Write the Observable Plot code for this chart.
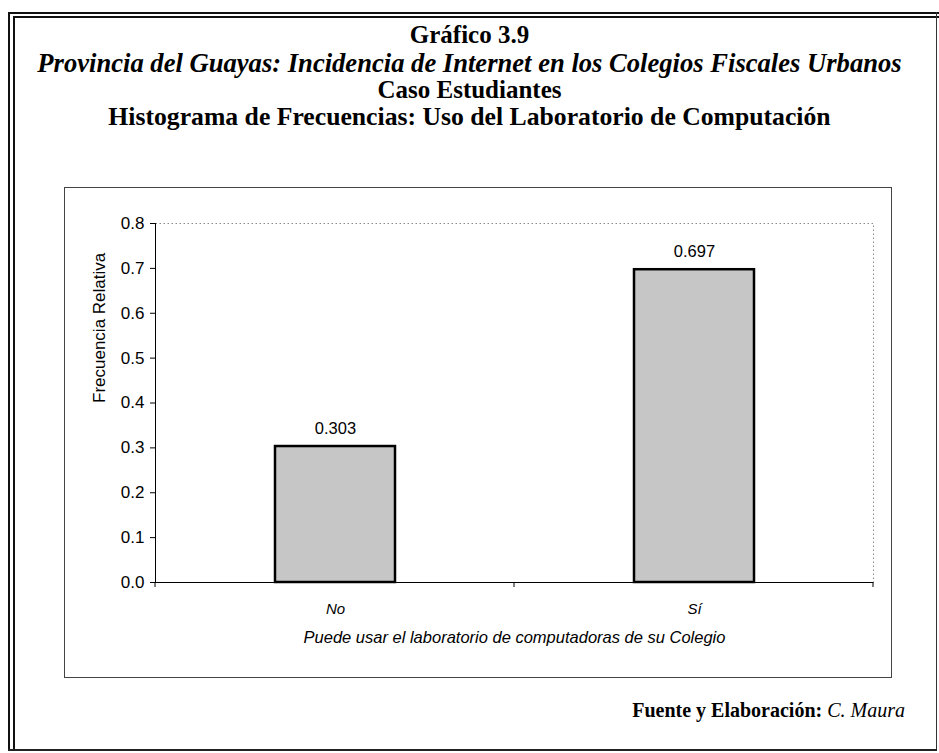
<!DOCTYPE html>
<html>
<head>
<meta charset="utf-8">
<script src="https://cdn.jsdelivr.net/npm/d3@7"></script>
<script src="https://cdn.jsdelivr.net/npm/@observablehq/plot@0.6"></script>
<style>
  html, body { margin: 0; padding: 0; background: #fff; }
  #page { position: relative; width: 939px; height: 753px; overflow: hidden; background: #fff; }
  .frameL1 { position: absolute; left: 8px; top: 12px; width: 2px; height: 738px; background: #111; }
  .frameL2 { position: absolute; left: 13px; top: 16px; width: 2px; height: 734px; background: #111; }
  .frameT1 { position: absolute; left: 8px; top: 12px; width: 931px; height: 2px; background: #111; }
  .frameT2 { position: absolute; left: 13px; top: 16px; width: 926px; height: 2px; background: #111; }
  .frameR { position: absolute; left: 936px; top: 12px; width: 1px; height: 738px; background: #333; }
  .frameB { position: absolute; left: 8px; top: 749px; width: 929px; height: 2px; background: #222; }
  .t { position: absolute; left: 0; width: 939px; text-align: center; font-family: "Liberation Serif", "Times New Roman", serif; color: #000; white-space: nowrap; line-height: 1; font-weight: bold; }
  #chartbox { position: absolute; left: 64px; top: 187px; width: 828px; height: 491px; border: 1px solid #444; box-sizing: border-box; }
  #plot { position: absolute; left: 64px; top: 187px; }
  #fuente { position: absolute; right: 34px; top: 700px; font-family: "Liberation Serif", "Times New Roman", serif; font-size: 20px; white-space: nowrap; line-height: 1; }
</style>
</head>
<body>
<div id="page">
  <div class="frameL1"></div><div class="frameL2"></div>
  <div class="frameT1"></div><div class="frameT2"></div>
  <div class="frameR"></div><div class="frameB"></div>
  <div class="t" id="t1" style="top:22px;font-size:25px;">Gráfico 3.9</div>
  <div class="t" id="t2" style="top:49.5px;font-size:26.6px;font-style:italic;">Provincia del Guayas: Incidencia de Internet en los Colegios Fiscales Urbanos</div>
  <div class="t" id="t3" style="top:77px;font-size:25px;">Caso Estudiantes</div>
  <div class="t" id="t4" style="top:104px;font-size:25.7px;">Histograma de Frecuencias: Uso del Laboratorio de Computación</div>
  <div id="chartbox"></div>
  <div id="plot"></div>
  <div id="fuente"><b>Fuente y Elaboración:</b> <i>C. Maura</i></div>
</div>
<script>
const categories = ["No", "Sí"];
const values = [0.303, 0.697];
const valueLabels = ["0.303", "0.697"];
const yTicks = [0.0, 0.1, 0.2, 0.3, 0.4, 0.5, 0.6, 0.7, 0.8];
const yLabel = "Frecuencia Relativa";
const xLabel = "Puede usar el laboratorio de computadoras de su Colegio";

const data = categories.map((c, i) => ({cat: c, val: values[i], label: valueLabels[i]}));

// Excel-style tick marks at category boundaries
function boundaryTicks(index, scales, values, dimensions) {
  const {width, height, marginLeft, marginRight, marginBottom} = dimensions;
  const n = categories.length;
  const x0 = marginLeft, x1 = width - marginRight;
  const yb = height - marginBottom;
  const g = d3.create("svg:g").attr("stroke", "#000").attr("stroke-width", 1);
  for (let i = 0; i <= n; i++) {
    const xx = x0 + (x1 - x0) * i / n;
    g.append("line").attr("x1", xx).attr("x2", xx).attr("y1", yb).attr("y2", yb + 5);
  }
  return g.node();
}

const chart = Plot.plot({
  width: 828,
  height: 491,
  marginLeft: 91,
  marginRight: 19,
  marginTop: 36,
  marginBottom: 96,
  style: {fontFamily: "'Liberation Sans', Arial, sans-serif", fontSize: "16px", background: "transparent", color: "#000", overflow: "visible"},
  x: {domain: categories, paddingInner: 0.667, paddingOuter: 0.333, label: null},
  y: {domain: [0, 0.8], label: null},
  marks: [
    Plot.frame({stroke: "#8a8a8a", strokeDasharray: "1.5,2.5", strokeWidth: 1}),
    Plot.barY(data, {x: "cat", y: "val", fill: "#c6c6c6", stroke: "#000", strokeWidth: 2.5}),
    Plot.text(data, {x: "cat", y: "val", text: "label", dy: -18, fontSize: 16.5, fill: "#000"}),
    Plot.ruleY([0], {stroke: "#000", strokeWidth: 1}),
    Plot.frame({anchor: "left", stroke: "#000", strokeWidth: 1}),
    Plot.axisY({ticks: yTicks, tickFormat: d3.format(".1f"), tickSize: 5, tickPadding: 6, fontSize: 17, label: null}),
    Plot.axisX({tickSize: 0, tickPadding: 21, fontSize: 15, fontStyle: "italic", label: null}),
    boundaryTicks,
    Plot.text([xLabel], {frameAnchor: "bottom", dy: 60, fontSize: 16.5, fontStyle: "italic", fill: "#000"}),
    Plot.text([yLabel], {frameAnchor: "left", rotate: -90, dx: -56, fontSize: 17, fill: "#000"})
  ]
});
document.getElementById("plot").appendChild(chart);
</script>
</body>
</html>
